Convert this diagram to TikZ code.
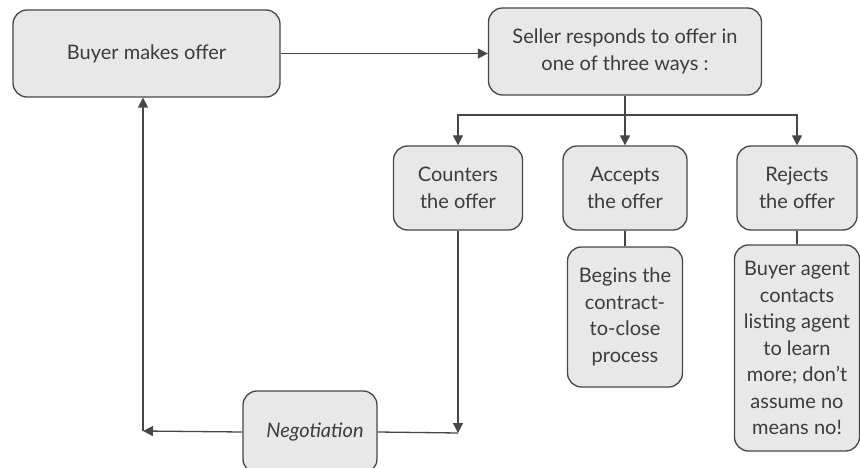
\documentclass[tikz,border=0pt]{standalone}
\usepackage{fontspec}
\setmainfont{Lato}
\usetikzlibrary{arrows.meta}
\definecolor{linec}{HTML}{474747}
\definecolor{boxfill}{HTML}{E8E8E8}
\definecolor{textc}{HTML}{3C3C3C}
\begin{document}
\begin{tikzpicture}[x=1pt,y=-1pt,
  box/.style={draw=linec, fill=boxfill, rounded corners=14pt, line width=1.3pt,
    align=center, inner sep=0pt, text=textc, font=\fontsize{20}{26.5}\selectfont},
  conn/.style={draw=linec, line width=1.3pt},
  arr/.style={conn, -{Triangle[length=10pt,width=10pt]}}]
\fill[white] (0,0) rectangle (860,468);
\useasboundingbox (0,0) rectangle (860,468);

\node[box, minimum width=267pt, minimum height=87pt] (buyer) at (146.5,53.5) {Buyer makes offer};
\node[box, minimum width=273pt, minimum height=87pt] (seller) at (625,51.5) {Seller responds to offer in\\one of three ways :};
\node[box, minimum width=129pt, minimum height=84pt] (counters) at (458,188) {Counters\\the offer};
\node[box, minimum width=124pt, minimum height=84pt] (accepts) at (625,188) {Accepts\\the offer};
\node[box, minimum width=120pt, minimum height=84pt] (rejects) at (797,188) {Rejects\\the offer};
\node[box, minimum width=115pt, minimum height=140pt] (begins) at (625,317) {Begins the\\contract-\\to-close\\process};
\node[box, minimum width=125pt, minimum height=206pt] (agent) at (797,348) {Buyer agent\\contacts\\listing agent\\to learn\\more; don’t\\assume no\\means no!};
\node[box, minimum width=134pt, minimum height=82pt] (neg) at (310,432) {\hspace*{10pt}\textit{Negotiation}};

\coordinate (bus) at (625,115);
\coordinate (lcorner) at (143,431);
\coordinate (rcorner) at (458,433);

\draw[arr] (buyer.east) -- (buyer.east -| seller.west);
\draw[conn] (seller.south) -- (bus);
\draw[arr] (bus) -| (counters.north);
\draw[arr] (bus) -| (rejects.north);
\draw[arr] (bus) -- (accepts.north);
\draw[conn] (accepts.south) -- (begins.north);
\draw[conn] (rejects.south) -- (agent.north);
\draw[arr] (counters.south) -- (rcorner);
\draw[conn] (neg.east) -- (rcorner);
\draw[arr] (neg.west) -- (lcorner);
\draw[arr] (lcorner) -- (lcorner |- buyer.south);
\end{tikzpicture}
\end{document}
